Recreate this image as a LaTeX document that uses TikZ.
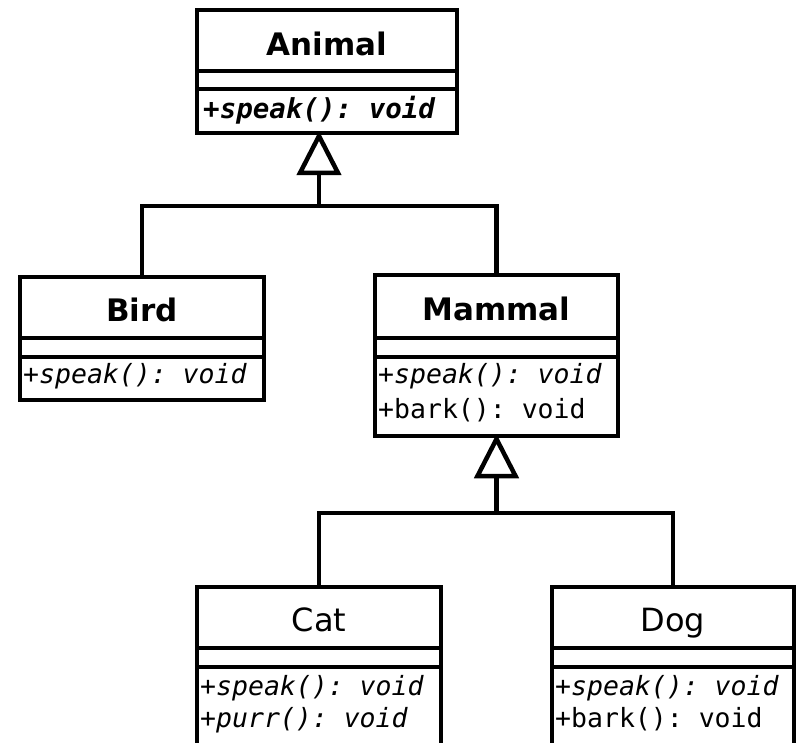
\documentclass[tikz,border=0pt]{standalone}
\usepackage{fontspec}
\setmainfont{DejaVu Sans}
\setmonofont{DejaVu Sans Mono}
\usetikzlibrary{calc}
\tikzset{
  cbox/.style={draw, line width=4.5pt, inner sep=0pt, outer sep=0pt, anchor=north west},
  sepline/.style={line width=4pt},
  cname/.style={anchor=base, inner sep=0pt, font=\fontsize{31}{36}\selectfont\bfseries},
  cnamelight/.style={anchor=base, inner sep=0pt, font=\fontsize{32}{36}\selectfont},
  meth/.style={anchor=base west, inner sep=0pt, font=\fontsize{26.5}{30}\selectfont\ttfamily},
  absmeth/.style={meth, font=\fontsize{26.5}{30}\selectfont\ttfamily\itshape},
  conn/.style={line width=4.5pt},
  gen/.style={line width=4.5pt, fill=white, line join=miter}
}
\begin{document}
\begin{tikzpicture}[x=1pt,y=-1pt]
\useasboundingbox (0,0) rectangle (801,743);
\clip (0,0) rectangle (801,743);
\fill[white] (0,0) rectangle (801,743);

% Animal
\node[cbox, minimum width=260pt, minimum height=123pt] (animal) at (197,10) {};
\node[cname] (animalname) at ($(animal.north)+(0,46)$) {Animal};
\draw[sepline] ($(animal.north west)+(0,61)$) -- ($(animal.north east)+(0,61)$);
\draw[sepline] ($(animal.north west)+(0,79)$) -- ($(animal.north east)+(0,79)$);
\node[meth, font=\fontsize{27.5}{30}\selectfont\ttfamily\bfseries\itshape] (animalm1) at ($(animal.north west)+(6,109)$) {+speak(): void};

% Bird
\node[cbox, minimum width=244pt, minimum height=123pt] (bird) at (20,277) {};
\node[cname] (birdname) at ($(bird.north)+(0,45)$) {Bird};
\draw[sepline] ($(bird.north west)+(0,61)$) -- ($(bird.north east)+(0,61)$);
\draw[sepline] ($(bird.north west)+(0,80)$) -- ($(bird.north east)+(0,80)$);
\node[absmeth] (birdm1) at ($(bird.north west)+(3,107)$) {+speak(): void};

% Mammal
\node[cbox, minimum width=243pt, minimum height=161pt] (mammal) at (375,275) {};
\node[cname] (mammalname) at ($(mammal.north)+(0,46)$) {Mammal};
\draw[sepline] ($(mammal.north west)+(0,63)$) -- ($(mammal.north east)+(0,63)$);
\draw[sepline] ($(mammal.north west)+(0,82)$) -- ($(mammal.north east)+(0,82)$);
\node[absmeth] (mammalm1) at ($(mammal.north west)+(3,109)$) {+speak(): void};
\node[meth] (mammalm2) at ($(mammal.north west)+(3,143)$) {+bark(): void};

% Cat
\node[cbox, minimum width=244pt, minimum height=200pt] (cat) at (197,587) {};
\node[cnamelight] (catname) at ($(cat.north)+(0,44)$) {Cat};
\draw[sepline] ($(cat.north west)+(0,61)$) -- ($(cat.north east)+(0,61)$);
\draw[sepline] ($(cat.north west)+(0,80)$) -- ($(cat.north east)+(0,80)$);
\node[absmeth] (catm1) at ($(cat.north west)+(3,108)$) {+speak(): void};
\node[absmeth] (catm2) at ($(cat.north west)+(3,140)$) {+purr(): void};

% Dog
\node[cbox, minimum width=242pt, minimum height=200pt] (dog) at (552,587) {};
\node[cnamelight] (dogname) at ($(dog.north)+(0,44)$) {Dog};
\draw[sepline] ($(dog.north west)+(0,61)$) -- ($(dog.north east)+(0,61)$);
\draw[sepline] ($(dog.north west)+(0,80)$) -- ($(dog.north east)+(0,80)$);
\node[absmeth] (dogm1) at ($(dog.north west)+(3,108)$) {+speak(): void};
\node[meth] (dogm2) at ($(dog.north west)+(3,140)$) {+bark(): void};

% Generalization: Bird, Mammal -> Animal
\coordinate (ap1) at ($(animal.south west)+(122,3)$);
\coordinate (tb1) at ($(ap1)+(0,37)$);
\coordinate (j1) at ($(ap1)+(0,70)$);
\draw[conn] (tb1) -- (j1);
\draw[conn] (bird.north) |- (j1) -| (mammal.north);
\draw[gen] (ap1) -- ++(-19,37) -- ++(38,0) -- cycle;

% Generalization: Cat, Dog -> Mammal
\coordinate (ap2) at ($(mammal.south)+(0,3)$);
\coordinate (tb2) at ($(ap2)+(0,37)$);
\coordinate (j2) at ($(ap2)+(0,74)$);
\draw[conn] (tb2) -- (j2);
\draw[conn] (cat.north) |- (j2) -| (dog.north);
\draw[gen] (ap2) -- ++(-19,37) -- ++(38,0) -- cycle;
\end{tikzpicture}
\end{document}
